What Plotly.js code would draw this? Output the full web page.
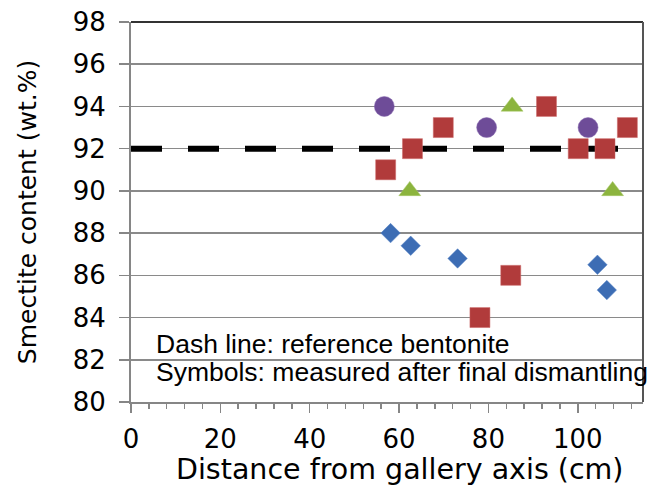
<!DOCTYPE html>
<html>
<head>
<meta charset="utf-8">
<script src="https://cdn.plot.ly/plotly-3.0.1.min.js"></script>
<style>html,body{margin:0;padding:0;background:#fff;}#chart{width:648px;height:495px;}</style>
</head>
<body>
<div id="chart"></div>
<script>
// Reference bentonite (dash line)
const refX = [0, 115];
const refY = [92, 92];

// Measured after final dismantling
const blueX = [58.1, 62.6, 73.1, 104.4, 106.5];
const blueY = [88.0, 87.4, 86.8, 86.5, 85.3];

const redX = [57.0, 63.0, 69.9, 78.1, 85.0, 93.0, 100.1, 106.1, 111.1];
const redY = [91, 92, 93, 84, 86, 94, 92, 92, 93];

const greenX = [62.4, 85.3, 107.8];
const greenY = [90, 94, 90];

const purpleX = [56.7, 79.6, 102.3];
const purpleY = [94, 93, 93];

const yTicks = [80, 82, 84, 86, 88, 90, 92, 94, 96, 98];
const xTicks = [0, 20, 40, 60, 80, 100];

const xTitle = 'Distance from gallery axis (cm)';
const yTitle = 'Smectite content (wt.%)';
const noteLines = ["Dash line: reference bentonite", "Symbols: measured after final dismantling"];

const traces = [
  {x: refX, y: refY, mode: 'lines', line: {color: '#000000', width: 6, dash: '31px,26px'}, hoverinfo: 'skip'},
  {x: blueX, y: blueY, mode: 'markers', marker: {symbol: 'diamond', size: 15, color: '#3d6db4', line: {color: '#5b86c8', width: 0.5}}},
  {x: purpleX, y: purpleY, mode: 'markers', marker: {symbol: 'circle', size: 20, color: '#6e4c98', line: {color: '#8a6cb0', width: 0.5}}},
  {x: greenX, y: greenY, mode: 'markers', marker: {symbol: 'triangle-up', size: 19, color: '#8cb43e', line: {color: '#a6c866', width: 0.5}}},
  {x: redX, y: redY, mode: 'markers', marker: {symbol: 'square', size: 20, color: '#b13b3b', line: {color: '#cc6b6b', width: 0.5}}}
];

const axisGray = '#868686';
const fam = 'DejaVu Sans, Verdana, sans-serif';
const layout = {
  width: 648, height: 495,
  margin: {l: 131, r: 5, t: 22, b: 93},
  paper_bgcolor: '#ffffff', plot_bgcolor: '#ffffff',
  showlegend: false,
  font: {family: fam, color: '#000000'},
  xaxis: {
    range: [0, 114.6], tickvals: xTicks, ticktext: xTicks.map(String),
    ticks: 'outside', ticklen: 9, tickwidth: 1.5, tickcolor: axisGray,
    minor: {dtick: 4, tick0: 0, ticks: 'outside', ticklen: 5, tickwidth: 1.5, tickcolor: axisGray, showgrid: false},
    showline: true, linecolor: axisGray, linewidth: 2,
    showgrid: false, zeroline: false,
    ticklabelstandoff: 4,
    tickfont: {size: 26, family: fam}
  },
  yaxis: {
    range: [80, 98], tickvals: yTicks, ticktext: yTicks.map(String),
    ticks: 'outside', ticklen: 10, tickwidth: 1.5, tickcolor: axisGray,
    showline: true, linecolor: axisGray, linewidth: 2,
    showgrid: true, gridcolor: '#8a8a8a', gridwidth: 1.5, zeroline: false,
    ticklabelstandoff: 8,
    tickfont: {size: 26, family: fam},
    title: {text: yTitle, font: {size: 25, family: fam}, standoff: 29}
  },
  shapes: [
    {type: 'line', xref: 'paper', yref: 'paper', x0: 0, x1: 1, y0: 1, y1: 1, line: {color: '#333333', width: 2}},
    {type: 'line', xref: 'paper', yref: 'paper', x0: 1, x1: 1, y0: 0, y1: 1, line: {color: '#555555', width: 2}}
  ],
  annotations: [
    {xref: 'paper', yref: 'paper', x: 0.044, y: 0.152, xanchor: 'left', yanchor: 'middle', text: noteLines[0], showarrow: false, font: {family: 'Liberation Sans, Arial, sans-serif', size: 26.5, color: '#000000'}},
    {xref: 'paper', yref: 'paper', x: 0.044, y: 0.078, xanchor: 'left', yanchor: 'middle', text: noteLines[1], showarrow: false, font: {family: 'Liberation Sans, Arial, sans-serif', size: 26.5, color: '#000000'}},
    {xref: 'paper', yref: 'paper', x: 0.525, y: -0.178, xanchor: 'center', yanchor: 'middle', text: xTitle, showarrow: false, font: {family: fam, size: 28.5, color: '#000000'}}
  ]
};

Plotly.newPlot('chart', traces, layout, {displayModeBar: false, staticPlot: true});
</script>
</body>
</html>
